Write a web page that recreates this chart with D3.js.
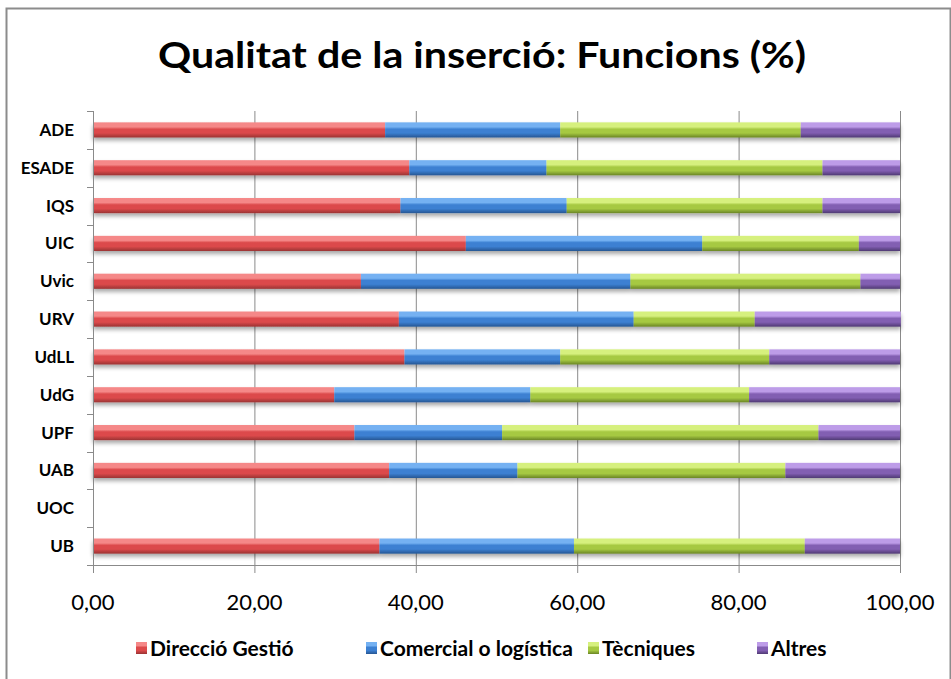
<!DOCTYPE html>
<html>
<head>
<meta charset="utf-8">
<script src="https://cdn.jsdelivr.net/npm/d3@7"></script>
<style>
  body { margin: 0; background: #fff; }
  text { font-family: Lato, "Open Sans", sans-serif; }
</style>
</head>
<body>
<div id="chart"></div>
<script>
// Qualitat de la inserció: Funcions (%)
var universitats = ["ADE", "ESADE", "IQS", "UIC", "Uvic", "URV", "UdLL", "UdG", "UPF", "UAB", "UOC", "UB"];
var series = ["Direcció Gestió", "Comercial o logística", "Tècniques", "Altres"];
var direccio  = [36.2, 39.2, 38.1, 46.2, 33.2, 37.9, 38.6, 29.9, 32.4, 36.7, 0, 35.5];
var comercial = [21.7, 17.0, 20.6, 29.3, 33.4, 29.1, 19.3, 24.3, 18.3, 15.9, 0, 24.1];
var tecniques = [29.8, 34.2, 31.7, 19.4, 28.5, 15.0, 25.9, 27.1, 39.2, 33.2, 0, 28.6];
var altres    = [12.3,  9.6,  9.6,  5.1,  4.9, 18.1, 16.2, 18.7, 10.1, 14.2, 0, 11.8];
var xTicks = [0, 20, 40, 60, 80, 100];

// colours: [top light, main, bottom dark]
var colors = [
  ["#f58888", "#dc4a4b", "#9a3333"],
  ["#74b1f2", "#3c80d2", "#265693"],
  ["#d6f07e", "#a6c942", "#6a8525"],
  ["#bd9ce8", "#825eb2", "#4f3a73"]
];

var width = 951, height = 679;
var svg = d3.select("#chart").append("svg")
  .attr("width", width)
  .attr("height", height);

var defs = svg.append("defs");
colors.forEach(function (c, i) {
  var g = defs.append("linearGradient")
    .attr("id", "grad" + i)
    .attr("x1", 0).attr("y1", 0).attr("x2", 0).attr("y2", 1);
  g.append("stop").attr("offset", "0%").attr("stop-color", c[0]);
  g.append("stop").attr("offset", "30%").attr("stop-color", c[0]);
  g.append("stop").attr("offset", "45%").attr("stop-color", c[1]);
  g.append("stop").attr("offset", "70%").attr("stop-color", c[1]);
  g.append("stop").attr("offset", "100%").attr("stop-color", c[2]);
});
var shadow = defs.append("filter").attr("id", "shadow")
  .attr("x", "-5%").attr("y", "-50%").attr("width", "110%").attr("height", "250%");
shadow.append("feGaussianBlur").attr("in", "SourceAlpha").attr("stdDeviation", 2);
shadow.append("feOffset").attr("dx", 0).attr("dy", 3).attr("result", "off");
shadow.append("feComponentTransfer").append("feFuncA").attr("type", "linear").attr("slope", 0.35);
var merge = shadow.append("feMerge");
merge.append("feMergeNode");
merge.append("feMergeNode").attr("in", "SourceGraphic");

// chart border
svg.append("rect")
  .attr("x", 6.5).attr("y", 8.5)
  .attr("width", 944).attr("height", 672)
  .attr("fill", "none")
  .attr("stroke", "#8c8c8c")
  .attr("stroke-width", 2);

// title
svg.append("text")
  .attr("x", 482)
  .attr("y", 68)
  .attr("text-anchor", "middle")
  .attr("textLength", 648)
  .attr("lengthAdjust", "spacingAndGlyphs")
  .style("font-size", "37px")
  .style("font-weight", "bold")
  .text("Qualitat de la inserció: Funcions (%)");

var margin = { left: 93, top: 111, right: 900, bottom: 565 };
var x = d3.scaleLinear().domain([0, 100]).range([margin.left, margin.right]);
var y = d3.scaleBand().domain(universitats).range([margin.top, margin.bottom]).paddingInner(0.6).paddingOuter(0.3);
var yOuter = d3.scaleBand().domain(universitats).range([margin.top, margin.bottom]);

// vertical gridlines
svg.append("g").selectAll("line")
  .data(xTicks.slice(1))
  .enter().append("line")
  .attr("x1", function (d) { return x(d) + 0.5; })
  .attr("x2", function (d) { return x(d) + 0.5; })
  .attr("y1", margin.top)
  .attr("y2", margin.bottom + 8)
  .attr("stroke", "#8a8a8a")
  .attr("stroke-width", 1);

// stacked bars
var rows = universitats.map(function (u, i) {
  return { uni: u, s0: direccio[i], s1: comercial[i], s2: tecniques[i], s3: altres[i] };
});
var stack = d3.stack().keys(["s0", "s1", "s2", "s3"]);
var layers = stack(rows);

var layerG = svg.append("g").attr("filter", "url(#shadow)").selectAll("g")
  .data(layers)
  .enter().append("g")
  .attr("fill", function (d, i) { return "url(#grad" + i + ")"; });

layerG.selectAll("rect")
  .data(function (d) { return d; })
  .enter().append("rect")
  .attr("x", function (d) { return x(d[0]); })
  .attr("width", function (d) { return Math.max(0, x(d[1]) - x(d[0])); })
  .attr("y", function (d) { return y(d.data.uni); })
  .attr("height", y.bandwidth());

// axes lines
var axisG = svg.append("g").attr("stroke", "#8a8a8a").attr("stroke-width", 1);
axisG.append("line")
  .attr("x1", margin.left + 0.5).attr("x2", margin.left + 0.5)
  .attr("y1", margin.top).attr("y2", margin.bottom + 8);
axisG.append("line")
  .attr("x1", margin.left - 6).attr("x2", margin.right + 1)
  .attr("y1", margin.bottom + 0.5).attr("y2", margin.bottom + 0.5);
axisG.selectAll(".ytick")
  .data(universitats)
  .enter().append("line")
  .attr("x1", margin.left - 6).attr("x2", margin.left)
  .attr("y1", function (d) { return Math.round(yOuter(d)) + 0.5; })
  .attr("y2", function (d) { return Math.round(yOuter(d)) + 0.5; });

// category labels
svg.append("g").selectAll("text")
  .data(universitats)
  .enter().append("text")
  .attr("x", 74)
  .attr("y", function (d) { return yOuter(d) + yOuter.bandwidth() / 2 + 6; })
  .attr("text-anchor", "end")
  .style("font-size", "17px")
  .style("font-weight", "bold")
  .text(function (d) { return d; });

// x tick labels
svg.append("g").selectAll("text")
  .data(xTicks)
  .enter().append("text")
  .attr("x", function (d) { return x(d); })
  .attr("y", 610)
  .attr("text-anchor", "middle")
  .style("font-size", "22px")
  .text(function (d) { return d.toFixed(2).replace(".", ","); });

// legend
var legendX = [136, 366, 588, 757];
var legend = svg.append("g").selectAll("g")
  .data(series)
  .enter().append("g")
  .attr("transform", function (d, i) { return "translate(" + legendX[i] + ",648)"; });
legend.append("rect")
  .attr("x", 0).attr("y", -6)
  .attr("width", 11).attr("height", 12)
  .attr("fill", function (d, i) { return "url(#grad" + i + ")"; });
legend.append("text")
  .attr("x", 14)
  .attr("y", 8)
  .style("font-size", "21px")
  .style("font-weight", "bold")
  .text(function (d) { return d; });
</script>
</body>
</html>
